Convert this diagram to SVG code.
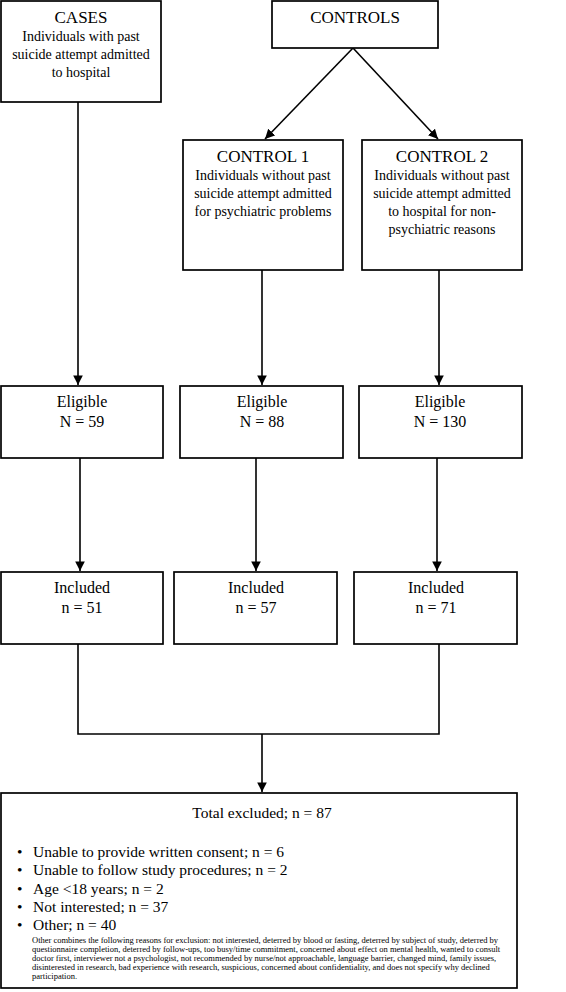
<svg xmlns="http://www.w3.org/2000/svg" width="566" height="992" viewBox="0 0 566 992">
<defs>
<style>
.box{fill:#fff;stroke:#000;stroke-width:1.7}
text{font-family:"Liberation Serif","Times New Roman",serif;fill:#000}
.h{font-size:17px;text-anchor:middle}
.b{font-size:14px;text-anchor:middle}
.m{font-size:16px;text-anchor:middle}
.t{font-size:15.5px;text-anchor:middle}
.bl{font-size:15.5px}
.s{font-size:8.5px}
.ln{fill:none;stroke:#000;stroke-width:1.6}
</style>
<marker id="ah" viewBox="0 0 10 10" refX="10" refY="5" markerWidth="6" markerHeight="6" orient="auto" markerUnits="strokeWidth">
<path d="M0,0 L10,5 L0,10 z" fill="#000"/>
</marker>
</defs>
<rect width="566" height="992" fill="#fff"/>
<g id="connectors">
<line class="ln" x1="78" y1="102" x2="78" y2="385" marker-end="url(#ah)"/>
<line class="ln" x1="353" y1="48" x2="265" y2="139" marker-end="url(#ah)"/>
<line class="ln" x1="353" y1="48" x2="438" y2="139" marker-end="url(#ah)"/>
<line class="ln" x1="262" y1="270" x2="262" y2="385" marker-end="url(#ah)"/>
<line class="ln" x1="439" y1="270" x2="439" y2="385" marker-end="url(#ah)"/>
<line class="ln" x1="80" y1="458" x2="80" y2="571" marker-end="url(#ah)"/>
<line class="ln" x1="256" y1="458" x2="256" y2="571" marker-end="url(#ah)"/>
<line class="ln" x1="437" y1="458" x2="437" y2="571" marker-end="url(#ah)"/>
<polyline class="ln" points="78,644 78,734 439,734 439,644"/>
<line class="ln" x1="262" y1="734" x2="262" y2="792" marker-end="url(#ah)"/>
</g>
<g id="cases">
<rect class="box" x="1" y="1" width="160" height="101"/>
<text class="h" x="81" y="23">CASES</text>
<text class="b" x="81" y="41">Individuals with past</text>
<text class="b" x="81" y="59">suicide attempt admitted</text>
<text class="b" x="81" y="77">to hospital</text>
</g>
<g id="controls">
<rect class="box" x="272" y="1" width="166" height="47"/>
<text class="h" x="355" y="23">CONTROLS</text>
</g>
<g id="control1">
<rect class="box" x="183" y="140" width="160" height="130"/>
<text class="h" x="263" y="162">CONTROL 1</text>
<text class="b" x="263" y="180">Individuals without past</text>
<text class="b" x="263" y="198">suicide attempt admitted</text>
<text class="b" x="263" y="216">for psychiatric problems</text>
</g>
<g id="control2">
<rect class="box" x="362" y="140" width="160" height="130"/>
<text class="h" x="442" y="162">CONTROL 2</text>
<text class="b" x="442" y="180">Individuals without past</text>
<text class="b" x="442" y="198">suicide attempt admitted</text>
<text class="b" x="442" y="216">to hospital for non-</text>
<text class="b" x="442" y="234">psychiatric reasons</text>
</g>
<g id="eligible1">
<rect class="box" x="1" y="386" width="162" height="72"/>
<text class="m" x="82" y="407">Eligible</text>
<text class="m" x="82" y="427">N = 59</text>
</g>
<g id="eligible2">
<rect class="box" x="180" y="386" width="163" height="72"/>
<text class="m" x="262" y="407">Eligible</text>
<text class="m" x="262" y="427">N = 88</text>
</g>
<g id="eligible3">
<rect class="box" x="359" y="386" width="163" height="72"/>
<text class="m" x="440" y="407">Eligible</text>
<text class="m" x="440" y="427">N = 130</text>
</g>
<g id="included1">
<rect class="box" x="1" y="572" width="162" height="72"/>
<text class="m" x="82" y="593">Included</text>
<text class="m" x="82" y="613">n = 51</text>
</g>
<g id="included2">
<rect class="box" x="174" y="572" width="163" height="72"/>
<text class="m" x="256" y="593">Included</text>
<text class="m" x="256" y="613">n = 57</text>
</g>
<g id="included3">
<rect class="box" x="354" y="572" width="163" height="72"/>
<text class="m" x="436" y="593">Included</text>
<text class="m" x="436" y="613">n = 71</text>
</g>
<g id="excluded">
<rect class="box" x="1" y="793" width="516" height="195"/>
<text class="t" x="262" y="818">Total excluded; n = 87</text>
<text class="bl" x="17" y="857">•</text><text class="bl" x="33" y="857">Unable to provide written consent; n = 6</text>
<text class="bl" x="17" y="875">•</text><text class="bl" x="33" y="875">Unable to follow study procedures; n = 2</text>
<text class="bl" x="17" y="893.5">•</text><text class="bl" x="33" y="893.5">Age &lt;18 years; n = 2</text>
<text class="bl" x="17" y="912">•</text><text class="bl" x="33" y="912">Not interested; n = 37</text>
<text class="bl" x="17" y="930">•</text><text class="bl" x="33" y="930">Other; n = 40</text>
<text class="s" x="32" y="942.5">Other combines the following reasons for exclusion: not interested, deterred by blood or fasting, deterred by subject of study, deterred by</text>
<text class="s" x="32" y="951.7">questionnaire completion, deterred by follow-ups, too busy/time commitment, concerned about effect on mental health, wanted to consult</text>
<text class="s" x="32" y="960.9">doctor first, interviewer not a psychologist, not recommended by nurse/not approachable, language barrier, changed mind, family issues,</text>
<text class="s" x="32" y="970.1">disinterested in research, bad experience with research, suspicious, concerned about confidentiality, and does not specify why declined</text>
<text class="s" x="32" y="979.3">participation.</text>
</g>
</svg>
